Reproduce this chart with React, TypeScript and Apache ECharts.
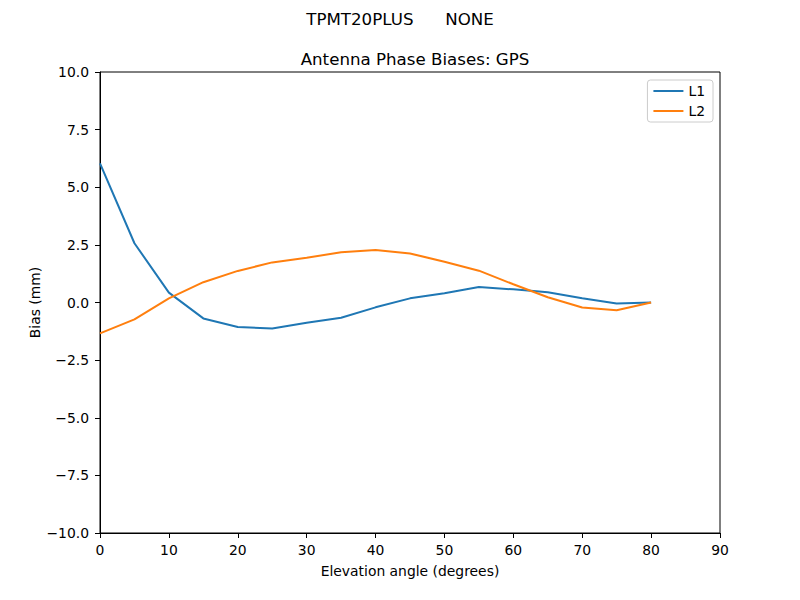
import React, { useEffect, useRef } from "react";
import * as echarts from "echarts";

const elevation = [0, 5, 10, 15, 20, 25, 30, 35, 40, 45, 50, 55, 60, 65, 70, 75, 80];
const l1Values = [6.04, 2.57, 0.43, -0.69, -1.06, -1.13, -0.88, -0.66, -0.21, 0.18, 0.4, 0.67, 0.57, 0.44, 0.18, -0.04, 0.0];
const l2Values = [-1.34, -0.73, 0.18, 0.88, 1.37, 1.74, 1.94, 2.18, 2.28, 2.13, 1.77, 1.38, 0.79, 0.23, -0.22, -0.34, 0.0];
const seriesNames = ["L1", "L2"];
const supTitle = "TPMT20PLUS      NONE";
const plotTitle = "Antenna Phase Biases: GPS";
const yAxisTitle = "Bias (mm)";
const xAxisTitle = "Elevation angle (degrees)";

const FONT = "DejaVu Sans";
const FS = 13.9;

export default function App() {
  const ref = useRef<HTMLDivElement>(null);
  useEffect(() => {
    if (!ref.current) return;
    const chart = echarts.init(ref.current, null, { renderer: "svg" });
    const pair = (vals: number[]) => elevation.map((e, i) => [e, vals[i]]);
    chart.setOption({
      animation: false,
      backgroundColor: "#ffffff",
      textStyle: { fontFamily: FONT },
      title: [
        {
          text: supTitle,
          left: "center",
          top: 6,
          textStyle: { fontFamily: FONT, fontSize: 16.67, fontWeight: "normal", color: "#000" },
        },
        {
          text: plotTitle,
          left: 410,
          textAlign: "center",
          top: 46,
          textStyle: { fontFamily: FONT, fontSize: 16.67, fontWeight: "normal", color: "#000" },
        },
      ],
      graphic: [
        {
          type: "text",
          x: 35,
          y: 302.5,
          rotation: Math.PI / 2,
          style: {
            text: yAxisTitle,
            fontFamily: FONT,
            fontSize: FS,
            fill: "#000",
            align: "center",
            verticalAlign: "middle",
          },
        },
      ],
      legend: {
        right: 87,
        top: 80,
        orient: "vertical",
        data: seriesNames,
        icon: "rect",
        itemWidth: 30,
        itemHeight: 2,
        itemGap: 6,
        padding: [4, 8, 4, 6],
        borderColor: "#cccccc",
        borderWidth: 1,
        borderRadius: 3,
        textStyle: { fontFamily: FONT, fontSize: FS, color: "#000" },
      },
      grid: {
        left: 100,
        right: 80,
        top: 72,
        bottom: 67,
        show: true,
        borderColor: "#000",
        borderWidth: 1,
        backgroundColor: "transparent",
        containLabel: false,
      },
      xAxis: {
        type: "value",
        min: 0,
        max: 90,
        interval: 10,
        name: xAxisTitle,
        nameLocation: "middle",
        nameGap: 31,
        nameTextStyle: { fontFamily: FONT, fontSize: FS, color: "#000" },
        axisLine: { show: true, onZero: false, lineStyle: { color: "#000", width: 1 } },
        axisTick: { show: true, length: 5, inside: false, lineStyle: { color: "#000" } },
        axisLabel: { fontFamily: FONT, fontSize: FS, color: "#000", margin: 10 },
        splitLine: { show: false },
      },
      yAxis: {
        type: "value",
        min: -10,
        max: 10,
        interval: 2.5,
        axisLine: { show: true, onZero: false, lineStyle: { color: "#000", width: 1 } },
        axisTick: { show: true, length: 5, inside: false, lineStyle: { color: "#000" } },
        axisLabel: {
          fontFamily: FONT,
          fontSize: FS,
          color: "#000",
          margin: 11,
          formatter: (v: number) => v.toFixed(1).replace("-", "\u2212"),
        },
        splitLine: { show: false },
      },
      series: [
        {
          name: seriesNames[0],
          type: "line",
          data: pair(l1Values),
          symbol: "none",
          lineStyle: { color: "#1f77b4", width: 2 },
          itemStyle: { color: "#1f77b4" },
        },
        {
          name: seriesNames[1],
          type: "line",
          data: pair(l2Values),
          symbol: "none",
          lineStyle: { color: "#ff7f0e", width: 2 },
          itemStyle: { color: "#ff7f0e" },
        },
      ],
    });
    return () => chart.dispose();
  }, []);
  return (
    <div
      ref={ref}
      style={{ position: "absolute", left: 0, top: 0, width: 800, height: 600 }}
    />
  );
}
